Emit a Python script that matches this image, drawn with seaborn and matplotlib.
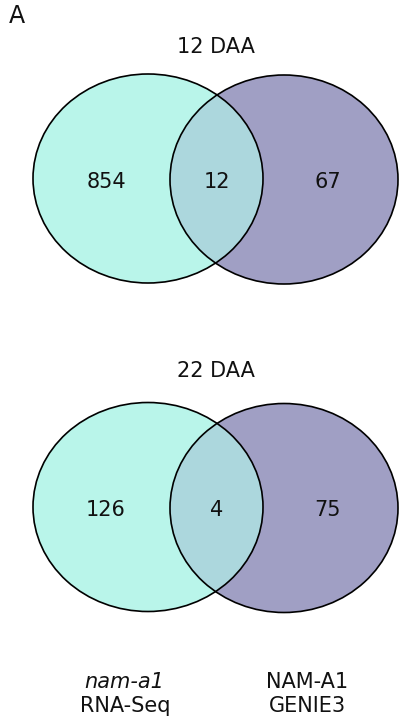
import matplotlib
matplotlib.use("Agg")
import matplotlib.pyplot as plt
from matplotlib.patches import Ellipse
import seaborn as sns

# Overlap counts per time point
timepoints = ["12 DAA", "22 DAA"]
only_rnaseq = [854, 126]
shared = [12, 4]
only_genie3 = [67, 75]

left_label = ["nam-a1", "RNA-Seq"]
right_label = ["NAM-A1", "GENIE3"]
panel_letter = "A"

sns.set_theme(style="white")
plt.rcParams["font.family"] = ["DejaVu Sans"]

left_color = "#b9f5ea"
right_color = "#a09fc4"
overlap_color = "#acd7dd"

fig = plt.figure(figsize=(4.0, 7.19), dpi=100)
ax = fig.add_axes([0, 0, 1, 1])
ax.set_xlim(0, 400)
ax.set_ylim(719, 0)
ax.set_axis_off()

# layout of each Venn panel (pixel units, y downward)
panel_cy = [178.5, 507.0]
title_y = [53, 377]
left_cx, right_cx = 148, 284
ew_left, ew_right, eh = 230, 228, 209

for i, tp in enumerate(timepoints):
    cy = panel_cy[i]
    right = Ellipse((right_cx, cy + 1), ew_right, eh, facecolor=right_color,
                    edgecolor="none", zorder=1)
    left = Ellipse((left_cx, cy), ew_left, eh, facecolor=left_color,
                   edgecolor="none", zorder=2)
    ax.add_patch(right)
    ax.add_patch(left)
    inter = Ellipse((left_cx, cy), ew_left, eh, facecolor=overlap_color,
                    edgecolor="none", zorder=3)
    ax.add_patch(inter)
    inter.set_clip_path(right)
    for cx, w, dy in [(left_cx, ew_left, 0), (right_cx, ew_right, 1)]:
        ax.add_patch(Ellipse((cx, cy + dy), w, eh, facecolor="none",
                             edgecolor="black", lw=1.2, zorder=4))

    ax.text(216, title_y[i], tp, ha="center", va="baseline", fontsize=15,
            color="#111111")
    base = cy + 9
    ax.text(106, base, str(only_rnaseq[i]), ha="center", va="baseline",
            fontsize=15, color="#111111", zorder=5)
    ax.text(217, base, str(shared[i]), ha="center", va="baseline",
            fontsize=15, color="#111111", zorder=5)
    ax.text(328, base, str(only_genie3[i]), ha="center", va="baseline",
            fontsize=15, color="#111111", zorder=5)

ax.text(9, 23, panel_letter, ha="left", va="baseline", fontsize=17,
        color="#111111")

ax.text(124, 688, left_label[0], ha="center", va="baseline", fontsize=15,
        style="italic", color="#111111")
ax.text(125, 712, left_label[1], ha="center", va="baseline", fontsize=15,
        color="#111111")
ax.text(307, 688, right_label[0], ha="center", va="baseline", fontsize=15,
        color="#111111")
ax.text(307, 712, right_label[1], ha="center", va="baseline", fontsize=15,
        color="#111111")

fig.savefig("out.png", dpi=100, facecolor="white")
